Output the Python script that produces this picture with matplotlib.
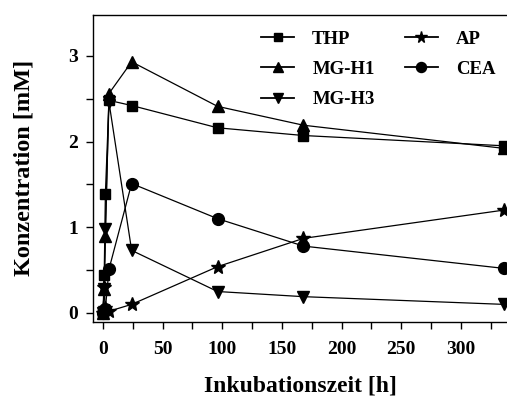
import matplotlib
matplotlib.use("Agg")
import matplotlib.pyplot as plt
from matplotlib.ticker import MultipleLocator

time_h = [0, 1, 2, 5, 24, 96, 168, 336]
thp = [0.0, 0.44, 1.39, 2.48, 2.42, 2.16, 2.07, 1.95]
mg_h1 = [0.0, 0.28, 0.90, 2.56, 2.93, 2.41, 2.19, 1.92]
mg_h3 = [0.0, 0.28, 0.98, 2.46, 0.73, 0.25, 0.19, 0.10]
ap = [0.0, 0.30, 0.06, 0.02, 0.10, 0.54, 0.87, 1.20]
cea = [0.0, 0.02, 0.05, 0.51, 1.51, 1.10, 0.78, 0.52]

series = [
    ("THP", thp, "s", 7.5),
    ("MG-H1", mg_h1, "^", 8.5),
    ("MG-H3", mg_h3, "v", 8.5),
    ("AP", ap, "*", 10),
    ("CEA", cea, "o", 8.5),
]

plt.rcParams['font.family'] = ['Liberation Serif', 'DejaVu Serif']
plt.rcParams['font.weight'] = 'bold'

fig = plt.figure(figsize=(5.07, 3.96), dpi=100)
ax = fig.add_axes([0.1834, 0.187, 0.8166, 0.776])

handles = {}
for name, vals, mk, ms in series:
    h, = ax.plot(time_h, vals, color='black', lw=0.9, marker=mk, markersize=ms,
                 markerfacecolor='black', markeredgecolor='black', clip_on=False,
                 label=name, zorder=3)
    handles[name] = h

ax.set_xlim(-8.4, 338.6)
ax.set_ylim(-0.105, 3.48)
ax.xaxis.set_major_locator(MultipleLocator(50))
ax.xaxis.set_minor_locator(MultipleLocator(25))
ax.yaxis.set_major_locator(MultipleLocator(1))
ax.yaxis.set_minor_locator(MultipleLocator(0.5))
ax.tick_params(which='both', direction='out', length=5, width=1, labelsize=14)
ax.tick_params(axis='x', pad=9)
ax.tick_params(axis='y', pad=6)
for lbl in ax.get_xticklabels() + ax.get_yticklabels():
    lbl.set_fontweight('bold')
ax.spines['right'].set_visible(False)
for s in ['left', 'bottom', 'top']:
    ax.spines[s].set_linewidth(1.0)

ax.set_xlabel('Inkubationszeit [h]', fontsize=17, fontweight='bold', labelpad=12)
ax.set_ylabel('Konzentration [mM]', fontsize=17.5, fontweight='bold', labelpad=24)

order = ["THP", "MG-H1", "MG-H3", "AP", "CEA"]
leg = ax.legend([handles[n] for n in order], order, ncol=2, frameon=False,
                loc='upper left', bbox_to_anchor=(0.405, 0.948),
                prop={'size': 13.5, 'weight': 'bold'}, markerscale=0.85,
                handlelength=1.8, handletextpad=0.95, columnspacing=1.6,
                labelspacing=0.7, borderaxespad=0.0, borderpad=0.0)
for line in leg.get_lines():
    line.set_linewidth(1.3)

fig.savefig('out.png', dpi=100)
